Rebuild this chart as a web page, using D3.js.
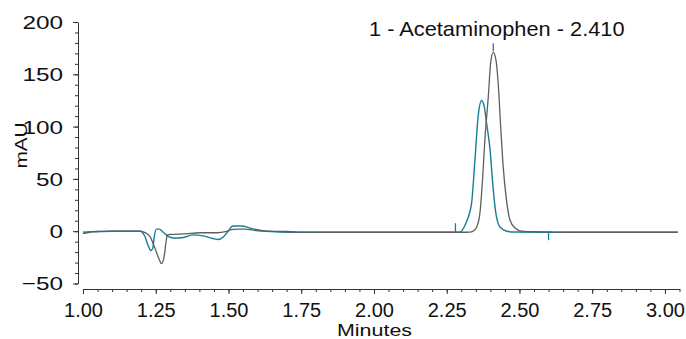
<!DOCTYPE html>
<html>
<head>
<meta charset="utf-8">
<script src="https://cdn.jsdelivr.net/npm/d3@7"></script>
<style>
  body { margin: 0; background: #fff; }
  svg { display: block; font-family: "Liberation Sans", Arial, Helvetica, sans-serif; }
</style>
</head>
<body>
<div id="chart"></div>
<script>
// gray trace (current run)
const grayTime = [1.00, 1.05, 1.10, 1.20, 1.206, 1.218, 1.230, 1.247, 1.262, 1.270, 1.279, 1.285, 1.290, 1.300,
  1.35, 1.40, 1.46, 1.49, 1.51, 1.528, 1.557, 1.585, 1.63, 1.70, 1.74, 2.00, 2.30, 2.33, 2.345, 2.353, 2.364,
  2.373, 2.381, 2.393, 2.401, 2.410, 2.419, 2.427, 2.436, 2.444, 2.454, 2.467, 2.485, 2.508, 2.55, 2.70, 3.044];
const grayMAU = [-0.8, -0.3, 0, 0, -0.5, -2, -5, -16, -27, -31, -24, -11, -3.5, -3,
  -2.5, -1.5, -1.5, -0.5, 1.5, 2, 2, 1, 0, -0.3, -0.8, -1, -1, -0.8, 1, 4, 17,
  49, 87, 129, 161, 171, 164, 141, 97, 62, 33, 11, 3, 0, -0.5, -1, -1];

// teal trace (reference run)
const tealTime = [1.00, 1.005, 1.03, 1.10, 1.196, 1.213, 1.224, 1.233, 1.240, 1.245, 1.253, 1.262, 1.276, 1.293,
  1.31, 1.345, 1.378, 1.413, 1.447, 1.465, 1.482, 1.499, 1.515, 1.545, 1.574, 1.608, 1.63, 1.72, 2.00, 2.28,
  2.296, 2.31, 2.318, 2.327, 2.336, 2.347, 2.358, 2.370, 2.379, 2.387, 2.399, 2.408, 2.419, 2.433, 2.456,
  2.48, 2.60, 3.044];
const tealMAU = [-1.5, -2, -0.5, 0, 0, -5, -14, -18.5, -16, -5, 2, 2, -1, -5,
  -6.5, -6, -3.5, -4.5, -7, -8, -5.5, 0, 5, 5, 3, 1, 0, -1, -1, -1,
  -0.8, 4, 9, 16, 28, 68, 110, 125, 119, 103, 78, 46, 17, 4, 0,
  -0.8, -1, -1];

const xMajor = [1.00, 1.25, 1.50, 1.75, 2.00, 2.25, 2.50, 2.75, 3.00];
const yMajor = [-50, 0, 50, 100, 150, 200];

const peakLabel = "1 - Acetaminophen - 2.410";
const peakTime = 2.41;
const peakStart = 2.28;
const peakEnd = 2.60;

const W = 686, H = 339;
const gray = "#5e5e5e", teal = "#177d98", axisColor = "#333";

const svg = d3.select("#chart").append("svg").attr("width", W).attr("height", H);

const x = d3.scaleLinear().domain([1.0, 3.05]).range([83, 679.5]);
const y = d3.scaleLinear().domain([-50, 200]).range([283.5, 22]);
const yAxisX = 78, xAxisY = 289;

// y axis: minor every 10, major every 50
const yg = svg.append("g").attr("transform", "translate(" + yAxisX + ",0)");
yg.append("g")
  .call(d3.axisLeft(y).tickValues(d3.range(-50, 201, 10)).tickSize(3).tickSizeOuter(0).tickFormat(""));
yg.append("g")
  .call(d3.axisLeft(y).tickValues(yMajor).tickSize(5).tickSizeOuter(0).tickFormat(d3.format("d")))
  .call(g => g.select(".domain").remove())
  .selectAll("text")
    .attr("x", -11.7)
    .attr("dy", "0.34em")
    .attr("transform", "scale(1.28,1)")
    .style("font-size", "19px");

// x axis: minor every 0.05, major every 0.25
const xg = svg.append("g").attr("transform", "translate(0," + xAxisY + ")");
xg.append("g")
  .call(d3.axisBottom(x).tickValues(d3.range(0, 42).map(i => 1 + i * 0.05)).tickSize(3).tickSizeOuter(0).tickFormat(""));
xg.append("g")
  .call(d3.axisBottom(x).tickValues(xMajor).tickSize(5).tickSizeOuter(0).tickFormat(d3.format(".2f")))
  .call(g => g.select(".domain").remove())
  .selectAll("text")
    .attr("y", 28)
    .attr("dy", 0)
    .style("font-size", "20px");

svg.selectAll(".domain, .tick line").attr("stroke", axisColor);
svg.selectAll(".tick text").attr("fill", "#111");

// axis titles
svg.append("text")
  .attr("transform", "translate(374.5,336) scale(1.3,1)")
  .attr("text-anchor", "middle")
  .style("font-size", "16.5px")
  .attr("fill", "#111")
  .text("Minutes");

svg.append("text")
  .attr("transform", "translate(27,145.5) rotate(-90) scale(1.3,1)")
  .attr("text-anchor", "middle")
  .style("font-size", "16px")
  .attr("fill", "#111")
  .text("mAU");

// traces
const line = d3.line()
  .x(d => x(d[0]))
  .y(d => y(d[1]))
  .curve(d3.curveMonotoneX);

svg.append("path")
  .datum(d3.zip(tealTime, tealMAU))
  .attr("fill", "none")
  .attr("stroke", teal)
  .attr("stroke-width", 1.4)
  .attr("d", line);

svg.append("path")
  .datum(d3.zip(grayTime, grayMAU))
  .attr("fill", "none")
  .attr("stroke", gray)
  .attr("stroke-width", 1.3)
  .attr("d", line);

// peak markers
const apex = d3.max(grayMAU);
const marks = [
  { t: peakTime, y1: y(apex) - 9, y2: y(apex) - 1 },
  { t: peakStart, y1: y(0) - 8, y2: y(0) + 1 },
  { t: peakEnd, y1: y(0), y2: y(0) + 9 }
];
svg.append("g").selectAll("line")
  .data(marks)
  .join("line")
    .attr("x1", d => x(d.t)).attr("x2", d => x(d.t))
    .attr("y1", d => d.y1).attr("y2", d => d.y2)
    .attr("stroke", teal)
    .attr("stroke-width", 1.3);

svg.append("text")
  .attr("transform", "translate(" + (x(peakTime) + 3.5) + "," + (y(apex) - 16.5) + ") scale(1.09,1)")
  .attr("text-anchor", "middle")
  .style("font-size", "20px")
  .attr("fill", "#111")
  .text(peakLabel);
</script>
</body>
</html>
